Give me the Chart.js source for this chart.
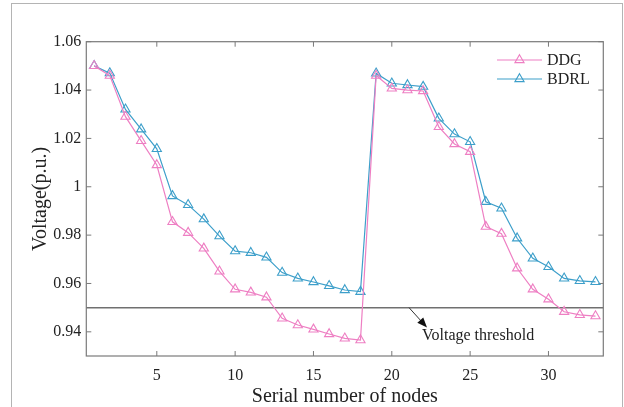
<!DOCTYPE html>
<html>
<head>
<meta charset="utf-8">
<title>Node voltage profile</title>
<script src="https://cdn.jsdelivr.net/npm/chart.js@4.4.1/dist/chart.umd.min.js"></script>
<style>
  html, body { margin: 0; padding: 0; background: #fff; }
  #wrap { width: 624px; height: 407px; }
</style>
</head>
<body>
<div id="wrap"><canvas id="chart-voltage" width="624" height="407"></canvas></div>
<script>
// Node indices and per-node voltage (p.u.) for the two methods
const nodes = Array.from({ length: 33 }, (_, i) => i + 1);

const ddgVoltage = [
  1.050, 1.046, 1.029, 1.019, 1.009, 0.9855, 0.981, 0.9745, 0.965, 0.9576, 0.9563,
  0.9543, 0.9456, 0.9428, 0.941, 0.9391, 0.9373, 0.9366, 1.046, 1.0407, 1.040, 1.0396,
  1.0248, 1.0177, 1.0145, 0.9835, 0.9806, 0.9663, 0.9576, 0.9535, 0.9483, 0.947, 0.9465
];

const bdrlVoltage = [
  1.050, 1.047, 1.032, 1.0238, 1.0157, 0.9962, 0.9925, 0.9866, 0.9796, 0.9734, 0.9727,
  0.9708, 0.9645, 0.9621, 0.9606, 0.959, 0.9573, 0.9566, 1.0469, 1.0428, 1.0421, 1.0414,
  1.0283, 1.0218, 1.0186, 0.9938, 0.9911, 0.9787, 0.9704, 0.9669, 0.9621, 0.9611, 0.9607
];

const thresholdVoltage = 0.95;

const xTicks = [5, 10, 15, 20, 25, 30];
const yTicks = [0.94, 0.96, 0.98, 1.00, 1.02, 1.04, 1.06];

const SERIF = '"Liberation Serif", "Times New Roman", serif';
const PINK  = '#ee7fc3';
const BLUE  = '#3d9fca';
const AXIS  = '#7a7a7a';
const TEXT  = '#222222';

const toPoints = arr => arr.map((v, i) => ({ x: nodes[i], y: v }));

// Axes box, inward ticks on all sides, threshold line, legend and annotation
const decorPlugin = {
  id: 'decor',
  beforeDatasetsDraw(chart) {
    const { ctx, chartArea: a, scales: { x, y } } = chart;
    ctx.save();

    // outer figure frame
    ctx.strokeStyle = '#b4b4b4';
    ctx.lineWidth = 1;
    ctx.strokeRect(11.5, 3.5, 611, 420);

    // threshold line
    const ty = y.getPixelForValue(thresholdVoltage);
    ctx.strokeStyle = '#707070';
    ctx.lineWidth = 1.5;
    ctx.beginPath();
    ctx.moveTo(a.left, ty);
    ctx.lineTo(a.right, ty);
    ctx.stroke();

    // axes box
    ctx.strokeStyle = AXIS;
    ctx.lineWidth = 1.2;
    ctx.strokeRect(a.left, a.top, a.right - a.left, a.bottom - a.top);

    // tick marks pointing inwards
    const tl = 5;
    ctx.lineWidth = 1;
    ctx.beginPath();
    xTicks.forEach(v => {
      const px = x.getPixelForValue(v);
      ctx.moveTo(px, a.bottom); ctx.lineTo(px, a.bottom - tl);
      ctx.moveTo(px, a.top);    ctx.lineTo(px, a.top + tl);
    });
    yTicks.forEach(v => {
      const py = y.getPixelForValue(v);
      ctx.moveTo(a.left, py);  ctx.lineTo(a.left + tl, py);
      ctx.moveTo(a.right, py); ctx.lineTo(a.right - tl, py);
    });
    ctx.stroke();
    ctx.restore();
  },
  afterDraw(chart) {
    const { ctx, scales: { x, y } } = chart;
    ctx.save();

    // legend entries: line + hollow triangle + label
    const entries = chart.data.datasets.map(ds => ({ label: ds.label, color: ds.borderColor }));
    entries.forEach((e, i) => {
      const ly = 60 + i * 19;
      ctx.strokeStyle = e.color;
      ctx.fillStyle = 'rgba(0,0,0,0)';
      ctx.lineWidth = 1.2;
      ctx.beginPath();
      ctx.moveTo(497, ly);
      ctx.lineTo(542, ly);
      ctx.stroke();
      ctx.lineWidth = 1.1;
      Chart.helpers.drawPoint(ctx, { pointStyle: 'triangle', radius: 5.3, borderWidth: 1.1 }, 519.5, ly);
      ctx.fillStyle = TEXT;
      ctx.font = '16px ' + SERIF;
      ctx.textAlign = 'left';
      ctx.textBaseline = 'middle';
      ctx.fillText(e.label, 547, ly + 1);
    });

    // "Voltage threshold" arrow and label
    const x0 = x.getPixelForValue(21.1);
    const y0 = y.getPixelForValue(thresholdVoltage);
    const x1 = 427, y1 = 327.5;
    const ang = Math.atan2(y1 - y0, x1 - x0);
    ctx.strokeStyle = '#333';
    ctx.fillStyle = '#111';
    ctx.lineWidth = 1;
    ctx.beginPath();
    ctx.moveTo(x0, y0);
    ctx.lineTo(x1 - 6 * Math.cos(ang), y1 - 6 * Math.sin(ang));
    ctx.stroke();
    ctx.beginPath();
    ctx.moveTo(x1, y1);
    ctx.lineTo(x1 - 10 * Math.cos(ang) + 4 * Math.sin(ang), y1 - 10 * Math.sin(ang) - 4 * Math.cos(ang));
    ctx.lineTo(x1 - 10 * Math.cos(ang) - 4 * Math.sin(ang), y1 - 10 * Math.sin(ang) + 4 * Math.cos(ang));
    ctx.closePath();
    ctx.fill();
    ctx.fillStyle = TEXT;
    ctx.font = '16px ' + SERIF;
    ctx.textAlign = 'left';
    ctx.textBaseline = 'middle';
    ctx.fillText('Voltage threshold', 422, 336);
    ctx.restore();
  }
};

new Chart(document.getElementById('chart-voltage'), {
  type: 'line',
  data: {
    datasets: [
      {
        label: 'DDG',
        data: toPoints(ddgVoltage),
        borderColor: PINK,
        backgroundColor: 'rgba(0,0,0,0)',
        borderWidth: 1.2,
        pointStyle: 'triangle',
        pointRadius: 5.3,
        pointBorderWidth: 1.1,
        pointBorderColor: PINK,
        pointBackgroundColor: 'rgba(0,0,0,0)',
        tension: 0
      },
      {
        label: 'BDRL',
        data: toPoints(bdrlVoltage),
        borderColor: BLUE,
        backgroundColor: 'rgba(0,0,0,0)',
        borderWidth: 1.2,
        pointStyle: 'triangle',
        pointRadius: 5.3,
        pointBorderWidth: 1.1,
        pointBorderColor: BLUE,
        pointBackgroundColor: 'rgba(0,0,0,0)',
        tension: 0
      }
    ]
  },
  options: {
    responsive: false,
    animation: false,
    layout: { padding: { left: 0, right: 20.7, top: 41.7, bottom: 0 } },
    plugins: {
      legend: { display: false },
      tooltip: { enabled: false }
    },
    scales: {
      x: {
        type: 'linear',
        min: 0.5,
        max: 33.5,
        afterBuildTicks: s => { s.ticks = xTicks.map(v => ({ value: v })); },
        afterFit: s => { s.height = 51; },
        grid: { display: false, drawTicks: false },
        border: { display: false },
        ticks: {
          padding: 10,
          color: TEXT,
          font: { family: SERIF, size: 16 },
          maxRotation: 0,
          callback: v => String(v)
        },
        title: {
          display: true,
          text: 'Serial number of nodes',
          color: TEXT,
          font: { family: SERIF, size: 20, lineHeight: 1 },
          padding: { top: 0, bottom: 0 }
        }
      },
      y: {
        type: 'linear',
        min: 0.93,
        max: 1.06,
        afterBuildTicks: s => { s.ticks = yTicks.map(v => ({ value: v })); },
        afterFit: s => { s.width = 86.3; },
        grid: { display: false, drawTicks: false },
        border: { display: false },
        ticks: {
          padding: 5,
          color: TEXT,
          font: { family: SERIF, size: 16 },
          callback: v => String(Number(v.toFixed(2)))
        },
        title: {
          display: true,
          text: 'Voltage(p.u.)',
          color: TEXT,
          font: { family: SERIF, size: 20, lineHeight: 1.2 },
          padding: { top: 29, bottom: 0 }
        }
      }
    }
  },
  plugins: [decorPlugin]
});
</script>
</body>
</html>
